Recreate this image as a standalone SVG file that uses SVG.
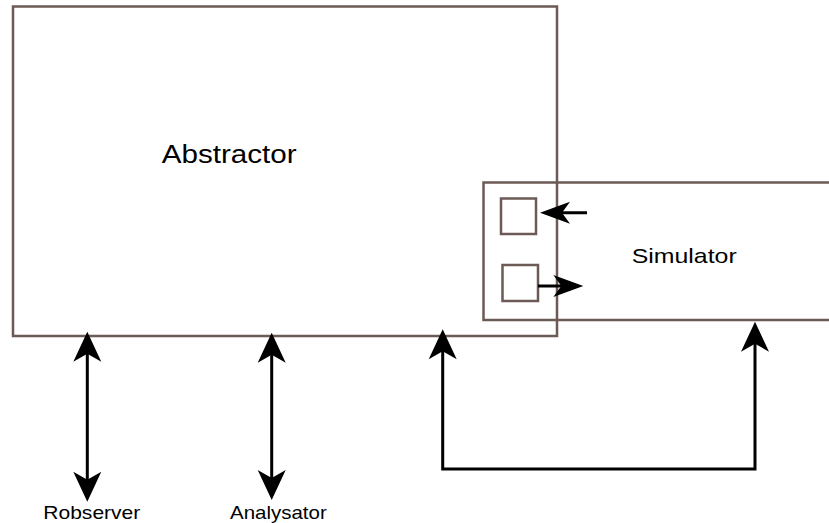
<svg xmlns="http://www.w3.org/2000/svg" width="829" height="523" viewBox="0 0 829 523">
<style>
.box{fill:none;stroke:#6b5a56;stroke-width:2.5}
.lbl{font-family:"Liberation Sans",Arial,sans-serif;fill:#000}
.con{fill:none;stroke:#000;stroke-width:3}
</style>
<defs>
<marker id="ah" markerUnits="userSpaceOnUse" viewBox="-22 -15 34 30" markerWidth="34" markerHeight="30" refX="0" refY="0" orient="auto-start-reverse">
<path d="M 10 0 L -20 -14 L -12 0 L -20 14 Z" fill="#000"/>
</marker>
<marker id="ahs" markerUnits="userSpaceOnUse" viewBox="-22 -15 34 30" markerWidth="34" markerHeight="30" refX="0" refY="0" orient="auto-start-reverse">
<path d="M 10 0 L -20 -11 L -12 0 L -20 11 Z" fill="#000"/>
</marker>
</defs>
<rect width="829" height="523" fill="#fff"/>
<g id="abstractor">
<rect class="box" x="13" y="6.5" width="544" height="329.5"/>
<text class="lbl" x="161.7" y="163.3" font-size="25" textLength="135" lengthAdjust="spacingAndGlyphs">Abstractor</text>
</g>
<g id="simulator">
<rect class="box" x="483.5" y="182.5" width="360" height="137.5"/>
<text class="lbl" x="631.7" y="263.3" font-size="21" textLength="105" lengthAdjust="spacingAndGlyphs">Simulator</text>
</g>
<g id="port-in">
<rect class="box" x="501" y="198.5" width="35" height="35.5"/>
</g>
<g id="port-out">
<rect class="box" x="502.5" y="265" width="35.5" height="36"/>
</g>
<g id="robserver">
<text class="lbl" x="43.3" y="518.5" font-size="18.5" textLength="97" lengthAdjust="spacingAndGlyphs">Robserver</text>
</g>
<g id="analysator">
<text class="lbl" x="230" y="518.5" font-size="18.5" textLength="96.7" lengthAdjust="spacingAndGlyphs">Analysator</text>
</g>
<g id="connectors">
<line class="con" x1="87.3" y1="341.7" x2="87.3" y2="491.7" marker-start="url(#ah)" marker-end="url(#ah)"/>
<line class="con" x1="271.7" y1="342.7" x2="271.7" y2="490" marker-start="url(#ah)" marker-end="url(#ah)"/>
<path class="con" d="M 442.7 339.3 L 442.7 469 L 755 469 L 755 331.7" marker-start="url(#ah)" marker-end="url(#ah)"/>
<line class="con" x1="587" y1="212.7" x2="550" y2="212.7" stroke-width="2.5" marker-end="url(#ahs)"/>
<line class="con" x1="538" y1="286" x2="573.3" y2="286" stroke-width="2.5" marker-end="url(#ahs)"/>
</g>
</svg>
